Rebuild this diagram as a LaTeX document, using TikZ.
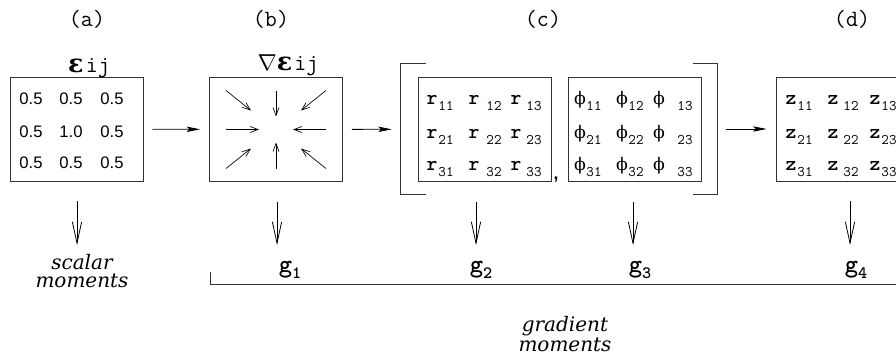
\documentclass[tikz,border=0pt]{standalone}
\usepackage{fontspec}
\usetikzlibrary{arrows.meta,calc}
\newfontfamily\helv{Liberation Sans}
\newfontfamily\dvserif{DejaVu Serif}
\definecolor{frame}{rgb}{0.2,0.2,0.2}

\tikzset{
  box/.style={draw=frame, line width=0.6pt, minimum width=99.75pt, minimum height=78pt, inner sep=0pt},
  num/.style={font=\helv\fontsize{12.5}{14}\selectfont, anchor=base, inner sep=0pt},
  entlet/.style={font=\ttfamily\bfseries\fontsize{15.5}{16}\selectfont, anchor=base, inner sep=0pt},
  phil/.style={font=\dvserif\fontsize{13}{15}\selectfont, anchor=base, inner sep=0pt},
  entsub/.style={font=\ttfamily\fontsize{11}{12}\selectfont, anchor=base, inner sep=0pt},
  panlab/.style={font=\ttfamily\fontsize{17.5}{18}\selectfont, anchor=base, inner sep=0pt},
  glab/.style={font=\ttfamily\bfseries\fontsize{19}{20}\selectfont, anchor=base, inner sep=0pt},
  mom/.style={font=\dvserif\itshape\fontsize{15}{13.5}\selectfont, align=center, inner sep=0pt},
  flow/.style={-{Stealth[length=10pt,width=4pt,inset=2pt]}, line width=0.6pt, shorten <=6.75pt, shorten >=6.75pt},
  inarr/.style={-{Straight Barb[length=6pt,width=4.5pt]}, line width=0.5pt},
  down/.style={-{Straight Barb[length=16pt,width=7pt]}, line width=0.6pt, shorten <=15pt},
  brk/.style={draw=frame, line width=0.6pt}
}
\newcommand\epsij{{\dvserif\bfseries\fontsize{19}{20}\selectfont ε}\,{\ttfamily\fontsize{17.5}{18}\selectfont ij}}

\begin{document}
\begin{tikzpicture}[x=0.75pt,y=-0.75pt]
\clip (0,0) rectangle (896,354);

% panel captions
\node[panlab] (capA) at (87,26) {(a)};
\node[panlab] (capB) at (271,26) {(b)};
\node[panlab] (capC) at (543,26) {(c)};
\node[panlab] (capD) at (852,26) {(d)};

% the boxes
\node[box] (boxA) at (76.5,129) {};
\node[box] (boxB) at (276,129.5) {};
\node[box] (boxR) at (484.5,129.5) {};
\node[box] (boxP) at (634.5,129.5) {};
\node[box] (boxD) at (842.5,129) {};
\node[minimum width=237pt, minimum height=97.5pt, inner sep=0pt] (grpC) at (559,129) {};

% titles over (a) and (b)
\node[anchor=base, inner sep=0pt] (epsA) at (89,72) {\epsij};
\node[anchor=base, inner sep=0pt] (epsB) at (288,70)
  {{\fontsize{16}{20}\selectfont$\nabla$}\epsij};

% values in (a)
\foreach \r/\y in {1/104,2/137,3/168}
\foreach \c/\x in {1/31,2/71,3/112}
{
\node[num] (a\r\c) at (\x,\y) {\ifnum\r\c=22 1.0\else 0.5\fi};
}

% gradient field in (b)
\foreach \ox/\oy/\ix/\iy in {-50/-39/-25/-19, 0/-39/0/-13, 50/-39/25/-19,
  -50/0/-17/0, 50/0/17/0, -50/39/-25/19, 0/39/0/13, 50/39/25/19}
{
\draw[inarr] ($(boxB.center)+(\ox,\oy)$) -- ($(boxB.center)+(\ix,\iy)$);
}

% matrices in (c) and (d)
\foreach \r/\y in {1/104,2/138,3/170}
{
\foreach \c/\x/\s in {1/432/446,2/474/494,3/516/534}
{
\node[entlet] (r\r\c) at (\x,\y) {r};
\node[entsub] (r\r\c s) at (\s,\y+6) {\r\c};
}
\foreach \c/\x/\s in {1/580/594,2/622/636,3/659/685}
{
\node[phil] (p\r\c) at (\x,\y) {ϕ};
\node[entsub] (p\r\c s) at (\s,\y+6) {\r\c};
}
\foreach \c/\x/\s in {1/791/805,2/833/851,3/875/889}
{
\node[entlet] (z\r\c) at (\x,\y) {z};
\node[entsub] (z\r\c s) at (\s,\y+6) {\r\c};
}
}
\node[anchor=base, inner sep=0pt, font=\helv\bfseries\fontsize{13}{14}\selectfont] (comma) at (556,179) {,};

% brackets round (c)
\draw[brk] ([xshift=18.75pt]grpC.north west) -- (grpC.north west) -- (grpC.south west) -- ++(25,0);
\draw[brk] ([xshift=-18pt]grpC.north east) -- (grpC.north east) -- (grpC.south east) -- ++(-24,0);

% flow
\draw[flow] (boxA) -- (boxB);
\draw[flow] (boxB) -- (grpC);
\draw[flow] (grpC) -- (boxD);

% outputs
\node[mom] (scal) at (82,271) {scalar\\moments};
\node[glab] (g1) at (290,272) {g\raisebox{-0.55ex}{\fontsize{13}{13}\selectfont 1}};
\node[glab] (g2) at (481,272) {g\raisebox{-0.55ex}{\fontsize{13}{13}\selectfont 2}};
\node[glab] (g3) at (640,272) {g\raisebox{-0.55ex}{\fontsize{13}{13}\selectfont 3}};
\node[glab] (g4) at (856,272) {g\raisebox{-0.55ex}{\fontsize{13}{13}\selectfont 4}};
\node[mom] (grad) at (565,334) {gradient\\moments};

\coordinate (tipA) at (77,245);
\coordinate (tipB) at (277,245);
\coordinate (tipR) at (476,245);
\coordinate (tipP) at (633,245);
\coordinate (tipD) at (850,245);
\draw[down] (tipA |- boxA.south) -- (tipA);
\draw[down] (tipB |- boxB.south) -- (tipB);
\draw[down] (tipR |- boxR.south) -- (tipR);
\draw[down] (tipP |- boxP.south) -- (tipP);
\draw[down] (tipD |- boxD.south) -- (tipD);

% gradient moments bracket
\draw[brk] (210,272) -- (210,284) -- (896,284);
\end{tikzpicture}
\end{document}
